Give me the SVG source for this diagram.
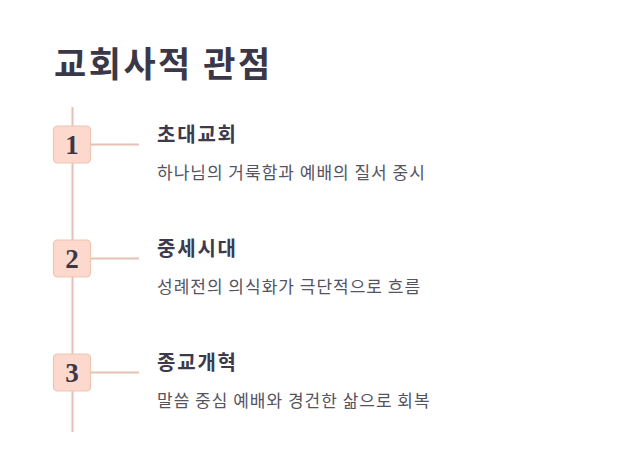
<svg xmlns="http://www.w3.org/2000/svg" width="642" height="475" viewBox="0 0 642 475">
<style>
.title{font-family:"Noto Sans CJK KR","Noto Sans",sans-serif;font-weight:700;font-size:35px;letter-spacing:2.5px;fill:#3a3848}
.head{font-family:"Noto Sans CJK KR","Noto Sans",sans-serif;font-weight:700;font-size:20px;letter-spacing:1.8px;fill:#3d3a4c}
.desc{font-family:"Noto Sans CJK KR","Noto Sans",sans-serif;font-size:17px;letter-spacing:1px;fill:#55535f}
.num{font-family:"Liberation Serif",serif;font-weight:700;font-size:27px;fill:#3a3848;text-anchor:middle}
.box{fill:#fdd8cc;stroke:#f0c3b3;stroke-width:1.2}
.ln{stroke:#e6c0b2;stroke-width:2;fill:none}
</style>
<rect width="642" height="475" fill="#ffffff"/>
<text class="title" x="54" y="77">교회사적 관점</text>
<g id="connectors">
<line class="ln" x1="72.5" y1="107" x2="72.5" y2="432"/>
<line class="ln" x1="91" y1="144.5" x2="139" y2="144.5"/>
<line class="ln" x1="91" y1="258.5" x2="139" y2="258.5"/>
<line class="ln" x1="91" y1="372.5" x2="139" y2="372.5"/>
</g>
<g id="node1">
<rect class="box" x="53.5" y="126" width="37" height="37" rx="4"/>
<text class="num" x="72" y="154">1</text>
<text class="head" x="157" y="142">초대교회</text>
<text class="desc" x="157" y="179">하나님의 거룩함과 예배의 질서 중시</text>
</g>
<g id="node2">
<rect class="box" x="53.5" y="240" width="37" height="37" rx="4"/>
<text class="num" x="72" y="268">2</text>
<text class="head" x="157" y="256">중세시대</text>
<text class="desc" x="157" y="293">성례전의 의식화가 극단적으로 흐름</text>
</g>
<g id="node3">
<rect class="box" x="53.5" y="354" width="37" height="37" rx="4"/>
<text class="num" x="72" y="382">3</text>
<text class="head" x="157" y="370">종교개혁</text>
<text class="desc" x="157" y="407">말씀 중심 예배와 경건한 삶으로 회복</text>
</g>
</svg>
